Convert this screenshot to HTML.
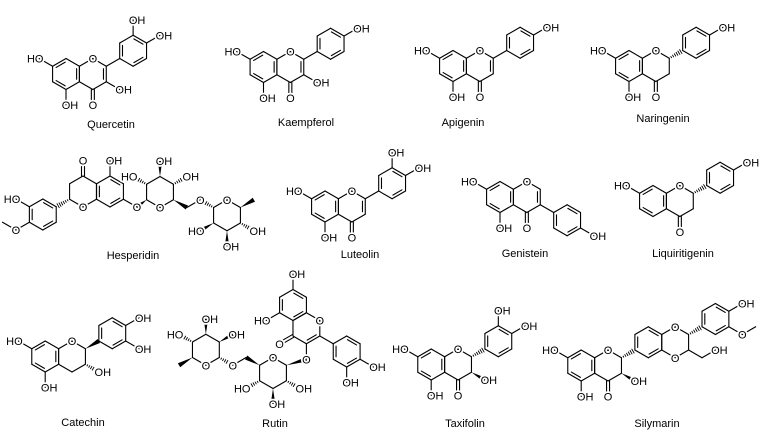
<!DOCTYPE html>
<html><head><meta charset="utf-8"><style>
html,body{margin:0;padding:0;background:#fff;}
svg{display:block}
line{stroke:#000;stroke-width:1.1;stroke-linecap:round}
text{font-family:"Liberation Sans",sans-serif;font-size:11px;fill:#000}
.l{stroke:#fff;stroke-width:3.5;paint-order:stroke;stroke-linejoin:round}
.t{font-size:11px}
</style></head><body>
<svg id="s" width="764" height="430" viewBox="0 0 764 430" xmlns="http://www.w3.org/2000/svg"></svg>
<script>
const S=[],TX=[];const b=15.5,h=b*Math.sqrt(3)/2;
function hex(cx,cy){let v=[];for(let i=0;i<6;i++){let a=(-90+60*i)*Math.PI/180;v.push([cx+b*Math.cos(a),cy+b*Math.sin(a)])}v.c=[cx,cy];return v}
function d(p,deg,l){l=l||b;let a=deg*Math.PI/180;return [p[0]+l*Math.cos(a),p[1]+l*Math.sin(a)]}
function L(p,q){S.push(`<line x1="${p[0].toFixed(2)}" y1="${p[1].toFixed(2)}" x2="${q[0].toFixed(2)}" y2="${q[1].toFixed(2)}"/>`)}
function inner(p,q,c){let mx=(p[0]+q[0])/2,my=(p[1]+q[1])/2,dx=c[0]-mx,dy=c[1]-my,n=Math.hypot(dx,dy),o=2.8,ox=dx/n*o,oy=dy/n*o,t=0.16;
L([p[0]+(q[0]-p[0])*t+ox,p[1]+(q[1]-p[1])*t+oy],[q[0]+(p[0]-q[0])*t+ox,q[1]+(p[1]-q[1])*t+oy])}
function ring(V,db){for(let i=0;i<6;i++)L(V[i],V[(i+1)%6]);(db||[]).forEach(i=>inner(V[i],V[(i+1)%6],V.c))}
function dbl(p,q){let dx=q[0]-p[0],dy=q[1]-p[1],n=Math.hypot(dx,dy),px=-dy/n*1.5,py=dx/n*1.5;L([p[0]+px,p[1]+py],[q[0]+px,q[1]+py]);L([p[0]-px,p[1]-py],[q[0]-px,q[1]-py])}
function wedge(p,q){let dx=q[0]-p[0],dy=q[1]-p[1],n=Math.hypot(dx,dy),px=-dy/n*2.3,py=dx/n*2.3;S.push(`<polygon points="${p[0]},${p[1]} ${q[0]+px},${q[1]+py} ${q[0]-px},${q[1]-py}" fill="#000"/>`)}
function hash(p,q){let dx=q[0]-p[0],dy=q[1]-p[1],n=Math.hypot(dx,dy),ux=-dy/n,uy=dx/n;for(let k=1;k<=6;k++){let t=k/7,w=0.4+2.2*t,x=p[0]+dx*t,y=p[1]+dy*t;S.push(`<line style="stroke-width:0.9" x1="${x+ux*w}" y1="${y+uy*w}" x2="${x-ux*w}" y2="${y-uy*w}"/>`)}}
function T(p,s,al){let x=p[0],y=p[1]+4,a='middle';if(al=='l'){x=p[0]-4.3;a='start'}else if(al=='r'){x=p[0]+4.3;a='end'}TX.push(`<text class="l" x="${x}" y="${y}" text-anchor="${a}">${s}</text>`)}
function title(x,y,s){TX.push(`<text class="t" x="${x}" y="${y}" text-anchor="middle">${s}</text>`)}
function sub(p,deg,s,al,type){let q=d(p,deg);if(type=='w')wedge(p,q);else if(type=='h')hash(p,q);else L(p,q);if(s)T(q,s,al);return q}

function core(ax,ay,o){let A=hex(ax,ay),C=hex(ax+2*h,ay);
 ring(A,[5,1,3]);ring(C,o.c23?[1]:[]);T(C[0],'O');
 if(o.ho7!==false)sub(A[5],210,'HO','r');
 if(o.oh5!==false)sub(A[3],90,'OH','l');
 let q=d(C[3],90);dbl(C[3],q);T(q,'O');
 return {A,C};}
function aryl(at,deg,type){let c=d(at,deg,2*b),B=hex(c[0],c[1]);let v=deg==30?B[5]:B[4];if(type=='h')hash(at,v);else if(type=='w')wedge(at,v);else L(at,v);ring(B,[0,2,4]);return B}

{let {A,C}=core(66,74,{c23:1});sub(C[2],30,'OH','l');let B=aryl(C[1],-30);sub(B[0],-90,'OH','l');sub(B[1],-30,'OH','l');title(111,128,'Quercetin')}
{let {A,C}=core(263.5,67,{c23:1});sub(C[2],30,'OH','l');let B=aryl(C[1],-30);sub(B[1],-30,'OH','l');title(306,126,'Kaempferol')}
{let {A,C}=core(453,66,{c23:1});let B=aryl(C[1],-30);sub(B[1],-30,'OH','l');title(463,126,'Apigenin')}
{let {A,C}=core(629,66,{});let B=aryl(C[1],-30,'h');sub(B[1],-30,'OH','l');title(663,122,'Naringenin')}
{let {A,C}=core(325,206.5,{c23:1});let B=aryl(C[1],-30);sub(B[0],-90,'OH','l');sub(B[1],-30,'OH','l');title(360,258,'Luteolin')}
{let {A,C}=core(500,197,{c23:1});let B=aryl(C[2],30);sub(B[2],30,'OH','l');title(525,257,'Genistein')}
{let {A,C}=core(653,201,{oh5:false});let B=aryl(C[1],-30,'h');sub(B[1],-30,'OH','l');title(683,257,'Liquiritigenin')}
{let C=hex(83,191.5),A=hex(110,191.5);ring(C,[]);ring(A,[4,0,2]);T(C[3],'O');
 let q=d(C[0],-90);dbl(C[0],q);T(q,'O');sub(A[0],-90,'OH','l');
 let B=hex(42.8,214.5);hash(C[4],B[1]);ring(B,[0,2,4]);sub(B[5],210,'HO','r');
 let om=d(B[4],150);L(B[4],om);let me=d(om,210);L(om,me);T(om,'O');
 let go=d(A[2],30);L(A[2],go);T(go,'O');
 let G=hex(160,192);ring(G,[]);T(G[3],'O');wedge(G[4],go);
 sub(G[5],210,'HO','r','h');sub(G[0],-90,'OH','l','w');sub(G[1],-30,'OH','l','h');
 let ch=d(G[2],30);wedge(G[2],ch);let o2=d(ch,-30);L(ch,o2);T(o2,'O');
 let R=hex(227,215.25);ring(R,[]);T(R[0],'O');hash(R[5],o2);
 let m=d(R[1],-30);wedge(R[1],m);sub(R[2],30,'OH','l','h');sub(R[3],90,'OH','l','w');sub(R[4],150,'HO','r','w');
 title(133,259,'Hesperidin')}
{let A=hex(45.2,356.5),C=hex(72,356.5);ring(A,[5,1,3]);ring(C,[]);T(C[0],'O');sub(A[5],210,'HO','r');sub(A[3],90,'OH','l');
 let B=aryl(C[1],-30,'w');sub(B[1],-30,'OH','l');sub(B[2],30,'OH','l');sub(C[2],30,'OH','l','h');title(83,426,'Catechin')}
{let {A,C}=core(431.2,364.5,{});let B=aryl(C[1],-30,'h');sub(B[0],-90,'OH','l');sub(B[1],-30,'OH','l');sub(C[2],30,'OH','l','w');title(465,427,'Taxifolin')}
{let {A,C}=core(581.2,365.5,{});sub(C[2],30,'OH','l','w');
 let D=aryl(C[1],-30,'h');let E=hex(D.c[0]+2*h,D.c[1]);ring(E,[]);T(E[0],'O');T(E[3],'O');
 let F=aryl(E[1],-30,'h');sub(F[1],-30,'OH','l');let o=d(F[2],30);L(F[2],o);L(o,d(o,-30));T(o,'O');
 let ch=d(E[2],30);L(E[2],ch);sub(ch,-30,'OH','l');title(657,427,'Silymarin')}
{let A=hex(293,305),C=hex(306.4,328.25);ring(A,[0,2,4]);ring(C,[2]);T(C[1],'O');
 sub(A[0],-90,'OH','l');sub(A[4],150,'HO','r');
 let q=d(C[4],150);dbl(C[4],q);T(q,'O');
 let B=aryl(C[2],30);sub(B[3],90,'OH','l');sub(B[2],30,'OH','l');
 let go=d(C[3],90);L(C[3],go);T(go,'O');
 let G=hex(273,373);ring(G,[]);T(G[0],'O');wedge(G[1],go);
 sub(G[2],30,'OH','l','h');sub(G[3],90,'OH','l','w');sub(G[4],150,'HO','r','h');
 let ch=d(G[5],210);wedge(G[5],ch);let o3=d(ch,150);L(ch,o3);T(o3,'O');
 let r2=d(o3,210);let R=hex(r2[0]-h,r2[1]-b/2);ring(R,[]);T(R[3],'O');hash(R[2],o3);
 wedge(R[4],d(R[4],150));sub(R[5],210,'HO','r','h');sub(R[0],-90,'OH','l','w');sub(R[1],-30,'OH','l','w');
 title(275,427,'Rutin')}

document.getElementById('s').innerHTML=S.join('')+TX.join('');
</script>
</body></html>
